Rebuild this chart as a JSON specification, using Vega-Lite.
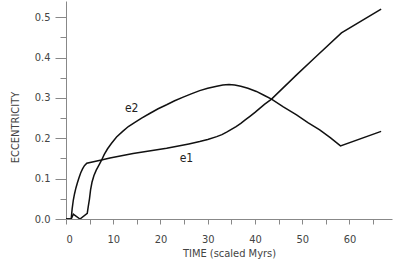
{
  "$schema": "https://vega.github.io/schema/vega-lite/v6.json",
  "autosize": "none",
  "padding": {"left": 66, "top": 1, "right": 15, "bottom": 54},
  "width": 326,
  "height": 218,
  "background": "white",
  "config": {"view": {"stroke": null}, "font": "DejaVu Sans Condensed, Liberation Sans, sans-serif"},
  "datasets": {
    "curves": [
      {"s": "e1", "t": 0, "e": 0},
      {"s": "e1", "t": 1.1, "e": 0},
      {"s": "e1", "t": 1.3, "e": 0.025},
      {"s": "e1", "t": 1.55, "e": 0.047},
      {"s": "e1", "t": 1.8, "e": 0.062},
      {"s": "e1", "t": 2.1, "e": 0.077},
      {"s": "e1", "t": 2.4, "e": 0.089},
      {"s": "e1", "t": 2.75, "e": 0.102},
      {"s": "e1", "t": 3.1, "e": 0.114},
      {"s": "e1", "t": 3.5, "e": 0.124},
      {"s": "e1", "t": 3.9, "e": 0.132},
      {"s": "e1", "t": 4.4, "e": 0.138},
      {"s": "e1", "t": 7.5, "e": 0.146},
      {"s": "e1", "t": 9.3, "e": 0.151},
      {"s": "e1", "t": 14.2, "e": 0.162},
      {"s": "e1", "t": 21.3, "e": 0.175},
      {"s": "e1", "t": 26, "e": 0.186},
      {"s": "e1", "t": 28.3, "e": 0.192},
      {"s": "e1", "t": 30, "e": 0.197},
      {"s": "e1", "t": 31.9, "e": 0.204},
      {"s": "e1", "t": 33, "e": 0.209},
      {"s": "e1", "t": 34, "e": 0.215},
      {"s": "e1", "t": 35, "e": 0.222},
      {"s": "e1", "t": 36, "e": 0.229},
      {"s": "e1", "t": 37, "e": 0.237},
      {"s": "e1", "t": 38, "e": 0.246},
      {"s": "e1", "t": 39, "e": 0.255},
      {"s": "e1", "t": 40, "e": 0.264},
      {"s": "e1", "t": 41, "e": 0.274},
      {"s": "e1", "t": 42, "e": 0.284},
      {"s": "e1", "t": 43.5, "e": 0.297},
      {"s": "e1", "t": 48.8, "e": 0.357},
      {"s": "e1", "t": 52.6, "e": 0.399},
      {"s": "e1", "t": 58.3, "e": 0.461},
      {"s": "e1", "t": 66.7, "e": 0.52},
      {"s": "e2", "t": 0, "e": 0},
      {"s": "e2", "t": 1.1, "e": 0},
      {"s": "e2", "t": 1.55, "e": 0.012},
      {"s": "e2", "t": 2.96, "e": 0},
      {"s": "e2", "t": 4.5, "e": 0.014},
      {"s": "e2", "t": 4.7, "e": 0.03},
      {"s": "e2", "t": 4.97, "e": 0.05},
      {"s": "e2", "t": 5.2, "e": 0.072},
      {"s": "e2", "t": 5.5, "e": 0.091},
      {"s": "e2", "t": 5.9, "e": 0.107},
      {"s": "e2", "t": 6.4, "e": 0.121},
      {"s": "e2", "t": 7.0, "e": 0.134},
      {"s": "e2", "t": 7.5, "e": 0.145},
      {"s": "e2", "t": 8.1, "e": 0.16},
      {"s": "e2", "t": 8.8, "e": 0.174},
      {"s": "e2", "t": 9.6, "e": 0.187},
      {"s": "e2", "t": 10.7, "e": 0.203},
      {"s": "e2", "t": 12, "e": 0.217},
      {"s": "e2", "t": 13.2, "e": 0.229},
      {"s": "e2", "t": 14.5, "e": 0.239},
      {"s": "e2", "t": 16, "e": 0.25},
      {"s": "e2", "t": 17.8, "e": 0.262},
      {"s": "e2", "t": 19.5, "e": 0.273},
      {"s": "e2", "t": 21.3, "e": 0.283},
      {"s": "e2", "t": 23, "e": 0.293},
      {"s": "e2", "t": 24.8, "e": 0.302},
      {"s": "e2", "t": 26.5, "e": 0.31},
      {"s": "e2", "t": 28.3, "e": 0.318},
      {"s": "e2", "t": 30, "e": 0.324},
      {"s": "e2", "t": 31.9, "e": 0.329},
      {"s": "e2", "t": 33.2, "e": 0.332},
      {"s": "e2", "t": 34.5, "e": 0.333},
      {"s": "e2", "t": 35.7, "e": 0.332},
      {"s": "e2", "t": 37, "e": 0.329},
      {"s": "e2", "t": 38.5, "e": 0.324},
      {"s": "e2", "t": 40.3, "e": 0.316},
      {"s": "e2", "t": 42, "e": 0.306},
      {"s": "e2", "t": 43.5, "e": 0.297},
      {"s": "e2", "t": 46, "e": 0.278},
      {"s": "e2", "t": 48.8, "e": 0.258},
      {"s": "e2", "t": 51.2, "e": 0.239},
      {"s": "e2", "t": 53.7, "e": 0.221},
      {"s": "e2", "t": 56, "e": 0.201},
      {"s": "e2", "t": 58.1, "e": 0.181},
      {"s": "e2", "t": 66.7, "e": 0.217}
    ],
    "labels": [
      {"label": "e2", "t": 13.9, "e": 0.275},
      {"label": "e1", "t": 25.5, "e": 0.151}
    ]
  },
  "encoding": {
    "x": {
      "field": "t", "type": "quantitative",
      "scale": {"domain": [0, 69], "nice": false, "zero": false},
      "axis": {
        "title": "TIME (scaled Myrs)",
        "values": [0, 5, 10, 15, 20, 25, 30, 35, 40, 45, 50, 55, 60, 65],
        "labelExpr": "datum.value % 10 == 0 ? format(datum.value, 'd') : ''",
        "grid": false,
        "domainColor": "#888888",
        "tickColor": "#888888",
        "tickSize": 5,
        "labelPadding": 9,
        "labelFontSize": 11,
        "labelColor": "#444444",
        "titleFontSize": 11,
        "titleFontWeight": "normal",
        "titleColor": "#444444",
        "titlePadding": 3
      }
    },
    "y": {
      "field": "e", "type": "quantitative",
      "scale": {"domain": [0, 0.54], "nice": false},
      "axis": {
        "title": "ECCENTRICITY",
        "values": [0, 0.05, 0.1, 0.15, 0.2, 0.25, 0.3, 0.35, 0.4, 0.45, 0.5],
        "labelExpr": "round(datum.value * 100) % 10 == 0 ? format(datum.value, '.1f') : ''",
        "grid": false,
        "domainColor": "#888888",
        "tickColor": "#888888",
        "tickSize": {"condition": {"test": "round(datum.value * 100) % 10 == 0", "value": 11}, "value": 6},
        "labelPadding": 5,
        "labelFontSize": 11,
        "labelColor": "#444444",
        "titleFontSize": 11,
        "titleFontWeight": "normal",
        "titleColor": "#444444",
        "titleAngle": -90,
        "titleX": -51,
        "titleY": 126,
        "titleAlign": "center",
        "titleBaseline": "middle"
      }
    }
  },
  "layer": [
    {
      "data": {"name": "curves"},
      "mark": {"type": "line", "strokeWidth": 1.5, "color": "#111111", "clip": true},
      "encoding": {"detail": {"field": "s"}}
    },
    {
      "data": {"name": "labels"},
      "mark": {"type": "text", "fontSize": 12, "color": "#222222"},
      "encoding": {"text": {"field": "label"}}
    }
  ]
}
